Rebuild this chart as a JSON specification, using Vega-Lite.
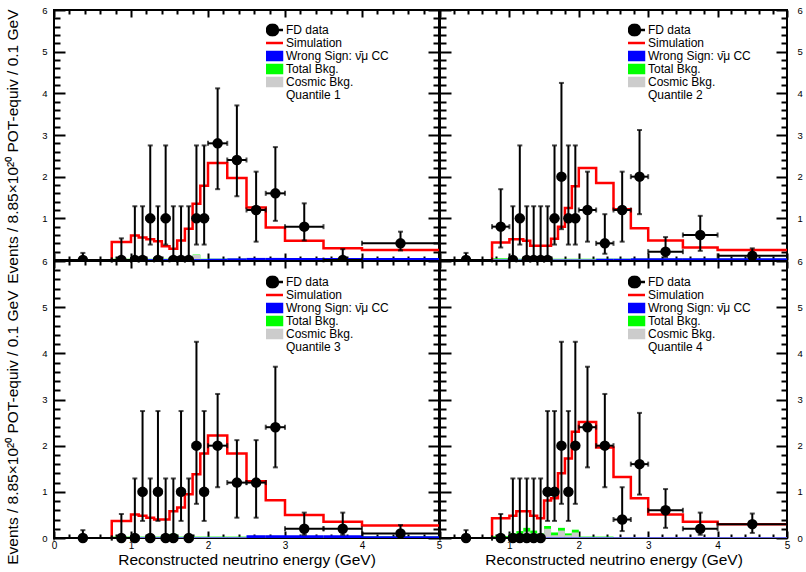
{
"$schema":"https://vega.github.io/schema/vega-lite/v6.json",
"background":"white",
"padding":{"left":3,"top":4,"right":0,"bottom":0},
"datasets":{
"fd":[
{"q":1,"x":0.375,"xlo":0,"xhi":0.75,"y":0,"ylo":0,"yhi":0.17},
{"q":1,"x":0.875,"xlo":0.75,"xhi":1,"y":0,"ylo":0,"yhi":0.52},
{"q":1,"x":1.05,"xlo":1,"xhi":1.1,"y":0,"ylo":0,"yhi":1.29},
{"q":1,"x":1.15,"xlo":1.1,"xhi":1.2,"y":0,"ylo":0,"yhi":1.29},
{"q":1,"x":1.25,"xlo":1.2,"xhi":1.3,"y":1,"ylo":0.37,"yhi":2.75},
{"q":1,"x":1.35,"xlo":1.3,"xhi":1.4,"y":0,"ylo":0,"yhi":1.29},
{"q":1,"x":1.45,"xlo":1.4,"xhi":1.5,"y":1,"ylo":0.37,"yhi":2.75},
{"q":1,"x":1.55,"xlo":1.5,"xhi":1.6,"y":0,"ylo":0,"yhi":1.29},
{"q":1,"x":1.65,"xlo":1.6,"xhi":1.7,"y":0,"ylo":0,"yhi":1.29},
{"q":1,"x":1.75,"xlo":1.7,"xhi":1.8,"y":0,"ylo":0,"yhi":1.29},
{"q":1,"x":1.85,"xlo":1.8,"xhi":1.9,"y":1,"ylo":0.37,"yhi":2.75},
{"q":1,"x":1.95,"xlo":1.9,"xhi":2,"y":1,"ylo":0.37,"yhi":2.75},
{"q":1,"x":2.125,"xlo":2,"xhi":2.25,"y":2.8,"ylo":1.7,"yhi":4.12},
{"q":1,"x":2.375,"xlo":2.25,"xhi":2.5,"y":2.4,"ylo":1.53,"yhi":3.71},
{"q":1,"x":2.625,"xlo":2.5,"xhi":2.75,"y":1.2,"ylo":0.44,"yhi":2.12},
{"q":1,"x":2.875,"xlo":2.75,"xhi":3,"y":1.6,"ylo":0.94,"yhi":2.71},
{"q":1,"x":3.25,"xlo":3,"xhi":3.5,"y":0.8,"ylo":0.47,"yhi":1.36},
{"q":1,"x":3.75,"xlo":3.5,"xhi":4,"y":0,"ylo":0,"yhi":0.26},
{"q":1,"x":4.5,"xlo":4,"xhi":5,"y":0.4,"ylo":0.23,"yhi":0.68},
{"q":2,"x":0.375,"xlo":0,"xhi":0.75,"y":0,"ylo":0,"yhi":0.17},
{"q":2,"x":0.875,"xlo":0.75,"xhi":1,"y":0.8,"ylo":0.3,"yhi":1.7},
{"q":2,"x":1.05,"xlo":1,"xhi":1.1,"y":0,"ylo":0,"yhi":1.29},
{"q":2,"x":1.15,"xlo":1.1,"xhi":1.2,"y":1,"ylo":0.37,"yhi":2.75},
{"q":2,"x":1.25,"xlo":1.2,"xhi":1.3,"y":0,"ylo":0,"yhi":1.29},
{"q":2,"x":1.35,"xlo":1.3,"xhi":1.4,"y":0,"ylo":0,"yhi":1.29},
{"q":2,"x":1.45,"xlo":1.4,"xhi":1.5,"y":0,"ylo":0,"yhi":1.29},
{"q":2,"x":1.55,"xlo":1.5,"xhi":1.6,"y":0,"ylo":0,"yhi":1.29},
{"q":2,"x":1.65,"xlo":1.6,"xhi":1.7,"y":1,"ylo":0.37,"yhi":2.75},
{"q":2,"x":1.75,"xlo":1.7,"xhi":1.8,"y":2,"ylo":0.74,"yhi":4.25},
{"q":2,"x":1.85,"xlo":1.8,"xhi":1.9,"y":1,"ylo":0.37,"yhi":2.75},
{"q":2,"x":1.95,"xlo":1.9,"xhi":2,"y":1,"ylo":0.37,"yhi":2.75},
{"q":2,"x":2.125,"xlo":2,"xhi":2.25,"y":1.2,"ylo":0.44,"yhi":2.12},
{"q":2,"x":2.375,"xlo":2.25,"xhi":2.5,"y":0.4,"ylo":0.15,"yhi":1.1},
{"q":2,"x":2.625,"xlo":2.5,"xhi":2.75,"y":1.2,"ylo":0.44,"yhi":2.12},
{"q":2,"x":2.875,"xlo":2.75,"xhi":3,"y":2,"ylo":1.1,"yhi":3.12},
{"q":2,"x":3.25,"xlo":3,"xhi":3.5,"y":0.2,"ylo":0.07,"yhi":0.55},
{"q":2,"x":3.75,"xlo":3.5,"xhi":4,"y":0.6,"ylo":0.22,"yhi":1.06},
{"q":2,"x":4.5,"xlo":4,"xhi":5,"y":0.1,"ylo":0.04,"yhi":0.28},
{"q":3,"x":0.375,"xlo":0,"xhi":0.75,"y":0,"ylo":0,"yhi":0.17},
{"q":3,"x":0.875,"xlo":0.75,"xhi":1,"y":0,"ylo":0,"yhi":0.52},
{"q":3,"x":1.05,"xlo":1,"xhi":1.1,"y":0,"ylo":0,"yhi":1.29},
{"q":3,"x":1.15,"xlo":1.1,"xhi":1.2,"y":1,"ylo":0.37,"yhi":2.75},
{"q":3,"x":1.25,"xlo":1.2,"xhi":1.3,"y":0,"ylo":0,"yhi":1.29},
{"q":3,"x":1.35,"xlo":1.3,"xhi":1.4,"y":1,"ylo":0.37,"yhi":2.75},
{"q":3,"x":1.45,"xlo":1.4,"xhi":1.5,"y":0,"ylo":0,"yhi":1.29},
{"q":3,"x":1.55,"xlo":1.5,"xhi":1.6,"y":0,"ylo":0,"yhi":1.29},
{"q":3,"x":1.65,"xlo":1.6,"xhi":1.7,"y":1,"ylo":0.37,"yhi":2.75},
{"q":3,"x":1.75,"xlo":1.7,"xhi":1.8,"y":0,"ylo":0,"yhi":1.29},
{"q":3,"x":1.85,"xlo":1.8,"xhi":1.9,"y":2,"ylo":0.74,"yhi":4.25},
{"q":3,"x":1.95,"xlo":1.9,"xhi":2,"y":1,"ylo":0.37,"yhi":2.75},
{"q":3,"x":2.125,"xlo":2,"xhi":2.25,"y":2,"ylo":1.1,"yhi":3.12},
{"q":3,"x":2.375,"xlo":2.25,"xhi":2.5,"y":1.2,"ylo":0.44,"yhi":2.12},
{"q":3,"x":2.625,"xlo":2.5,"xhi":2.75,"y":1.2,"ylo":0.44,"yhi":2.12},
{"q":3,"x":2.875,"xlo":2.75,"xhi":3,"y":2.4,"ylo":1.53,"yhi":3.71},
{"q":3,"x":3.25,"xlo":3,"xhi":3.5,"y":0.2,"ylo":0.07,"yhi":0.55},
{"q":3,"x":3.75,"xlo":3.5,"xhi":4,"y":0.2,"ylo":0.07,"yhi":0.55},
{"q":3,"x":4.5,"xlo":4,"xhi":5,"y":0.1,"ylo":0.04,"yhi":0.28},
{"q":4,"x":0.375,"xlo":0,"xhi":0.75,"y":0,"ylo":0,"yhi":0.17},
{"q":4,"x":0.875,"xlo":0.75,"xhi":1,"y":0,"ylo":0,"yhi":0.52},
{"q":4,"x":1.05,"xlo":1,"xhi":1.1,"y":0,"ylo":0,"yhi":1.29},
{"q":4,"x":1.15,"xlo":1.1,"xhi":1.2,"y":0,"ylo":0,"yhi":1.29},
{"q":4,"x":1.25,"xlo":1.2,"xhi":1.3,"y":0,"ylo":0,"yhi":1.29},
{"q":4,"x":1.35,"xlo":1.3,"xhi":1.4,"y":0,"ylo":0,"yhi":1.29},
{"q":4,"x":1.45,"xlo":1.4,"xhi":1.5,"y":0,"ylo":0,"yhi":1.29},
{"q":4,"x":1.55,"xlo":1.5,"xhi":1.6,"y":1,"ylo":0.37,"yhi":2.75},
{"q":4,"x":1.65,"xlo":1.6,"xhi":1.7,"y":1,"ylo":0.37,"yhi":2.75},
{"q":4,"x":1.75,"xlo":1.7,"xhi":1.8,"y":2,"ylo":0.74,"yhi":4.25},
{"q":4,"x":1.85,"xlo":1.8,"xhi":1.9,"y":1,"ylo":0.37,"yhi":2.75},
{"q":4,"x":1.95,"xlo":1.9,"xhi":2,"y":2,"ylo":0.74,"yhi":4.25},
{"q":4,"x":2.125,"xlo":2,"xhi":2.25,"y":2.4,"ylo":1.53,"yhi":3.71},
{"q":4,"x":2.375,"xlo":2.25,"xhi":2.5,"y":2,"ylo":1.1,"yhi":3.12},
{"q":4,"x":2.625,"xlo":2.5,"xhi":2.75,"y":0.4,"ylo":0.15,"yhi":1.1},
{"q":4,"x":2.875,"xlo":2.75,"xhi":3,"y":1.6,"ylo":0.94,"yhi":2.71},
{"q":4,"x":3.25,"xlo":3,"xhi":3.5,"y":0.6,"ylo":0.22,"yhi":1.06},
{"q":4,"x":3.75,"xlo":3.5,"xhi":4,"y":0.2,"ylo":0.07,"yhi":0.55},
{"q":4,"x":4.5,"xlo":4,"xhi":5,"y":0.3,"ylo":0.11,"yhi":0.53}
],
"sim":[
{"q":1,"e":0.75,"v":0},{"q":1,"e":0.75,"v":0.43},{"q":1,"e":1,"v":0.59},{"q":1,"e":1.1,"v":0.54},{"q":1,"e":1.2,"v":0.5},{"q":1,"e":1.3,"v":0.45},{"q":1,"e":1.4,"v":0.33},{"q":1,"e":1.5,"v":0.27},{"q":1,"e":1.6,"v":0.47},{"q":1,"e":1.7,"v":0.75},{"q":1,"e":1.8,"v":1.35},{"q":1,"e":1.9,"v":1.78},{"q":1,"e":2,"v":2.33},{"q":1,"e":2.25,"v":1.97},{"q":1,"e":2.5,"v":1.26},{"q":1,"e":2.75,"v":0.78},{"q":1,"e":3,"v":0.46},{"q":1,"e":3.5,"v":0.28},{"q":1,"e":4,"v":0.24},{"q":1,"e":5,"v":0.24},
{"q":2,"e":0.75,"v":0},{"q":2,"e":0.75,"v":0.42},{"q":2,"e":1,"v":0.5},{"q":2,"e":1.1,"v":0.5},{"q":2,"e":1.2,"v":0.46},{"q":2,"e":1.3,"v":0.34},{"q":2,"e":1.4,"v":0.34},{"q":2,"e":1.5,"v":0.34},{"q":2,"e":1.6,"v":0.51},{"q":2,"e":1.7,"v":0.8},{"q":2,"e":1.8,"v":1.25},{"q":2,"e":1.9,"v":1.77},{"q":2,"e":2,"v":2.21},{"q":2,"e":2.25,"v":1.85},{"q":2,"e":2.5,"v":1.22},{"q":2,"e":2.75,"v":0.76},{"q":2,"e":3,"v":0.47},{"q":2,"e":3.5,"v":0.3},{"q":2,"e":4,"v":0.24},{"q":2,"e":5,"v":0.24},
{"q":3,"e":0.75,"v":0},{"q":3,"e":0.75,"v":0.37},{"q":3,"e":1,"v":0.51},{"q":3,"e":1.1,"v":0.48},{"q":3,"e":1.2,"v":0.44},{"q":3,"e":1.3,"v":0.4},{"q":3,"e":1.4,"v":0.4},{"q":3,"e":1.5,"v":0.58},{"q":3,"e":1.6,"v":0.66},{"q":3,"e":1.7,"v":0.95},{"q":3,"e":1.8,"v":1.38},{"q":3,"e":1.9,"v":1.83},{"q":3,"e":2,"v":2.22},{"q":3,"e":2.25,"v":1.83},{"q":3,"e":2.5,"v":1.23},{"q":3,"e":2.75,"v":0.82},{"q":3,"e":3,"v":0.5},{"q":3,"e":3.5,"v":0.35},{"q":3,"e":4,"v":0.27},{"q":3,"e":5,"v":0.27},
{"q":4,"e":0.75,"v":0},{"q":4,"e":0.75,"v":0.43},{"q":4,"e":1,"v":0.48},{"q":4,"e":1.1,"v":0.58},{"q":4,"e":1.2,"v":0.58},{"q":4,"e":1.3,"v":0.48},{"q":4,"e":1.4,"v":0.43},{"q":4,"e":1.5,"v":0.81},{"q":4,"e":1.6,"v":0.86},{"q":4,"e":1.7,"v":1.4},{"q":4,"e":1.8,"v":1.72},{"q":4,"e":1.9,"v":2.3},{"q":4,"e":2,"v":2.51},{"q":4,"e":2.25,"v":1.96},{"q":4,"e":2.5,"v":1.32},{"q":4,"e":2.75,"v":0.86},{"q":4,"e":3,"v":0.51},{"q":4,"e":3.5,"v":0.35},{"q":4,"e":4,"v":0.3},{"q":4,"e":5,"v":0.3}
],
"bkg":[
{"q":1,"lo":0,"hi":0.75,"ws":0,"tot":0.02,"cos":0.015},{"q":1,"lo":0.75,"hi":1,"ws":0.02,"tot":0.03,"cos":0.02},{"q":1,"lo":1,"hi":1.1,"ws":0.02,"tot":0.03,"cos":0.02},{"q":1,"lo":1.1,"hi":1.2,"ws":0.02,"tot":0.03,"cos":0.02},{"q":1,"lo":1.2,"hi":1.3,"ws":0.02,"tot":0.03,"cos":0.02},{"q":1,"lo":1.3,"hi":1.4,"ws":0.02,"tot":0.03,"cos":0.02},{"q":1,"lo":1.4,"hi":1.5,"ws":0.02,"tot":0.03,"cos":0.02},{"q":1,"lo":1.5,"hi":1.6,"ws":0.02,"tot":0.03,"cos":0.02},{"q":1,"lo":1.6,"hi":1.7,"ws":0.02,"tot":0.03,"cos":0.02},{"q":1,"lo":1.7,"hi":1.8,"ws":0.02,"tot":0.03,"cos":0.02},{"q":1,"lo":1.8,"hi":1.9,"ws":0.02,"tot":0.13,"cos":0.12},{"q":1,"lo":1.9,"hi":2,"ws":0.02,"tot":0.03,"cos":0.02},{"q":1,"lo":2,"hi":2.25,"ws":0.03,"tot":0.03,"cos":0.02},{"q":1,"lo":2.25,"hi":2.5,"ws":0.04,"tot":0.03,"cos":0.02},{"q":1,"lo":2.5,"hi":2.75,"ws":0.05,"tot":0.03,"cos":0.02},{"q":1,"lo":2.75,"hi":3,"ws":0.05,"tot":0.03,"cos":0.02},{"q":1,"lo":3,"hi":3.5,"ws":0.05,"tot":0.03,"cos":0.02},{"q":1,"lo":3.5,"hi":4,"ws":0.05,"tot":0.03,"cos":0.02},{"q":1,"lo":4,"hi":5,"ws":0.05,"tot":0.03,"cos":0.02},
{"q":2,"lo":0,"hi":0.75,"ws":0,"tot":0.02,"cos":0.015},{"q":2,"lo":0.75,"hi":1,"ws":0.01,"tot":0.04,"cos":0.02},{"q":2,"lo":1,"hi":1.1,"ws":0.01,"tot":0.03,"cos":0.02},{"q":2,"lo":1.1,"hi":1.2,"ws":0.01,"tot":0.03,"cos":0.02},{"q":2,"lo":1.2,"hi":1.3,"ws":0.01,"tot":0.03,"cos":0.02},{"q":2,"lo":1.3,"hi":1.4,"ws":0.01,"tot":0.03,"cos":0.02},{"q":2,"lo":1.4,"hi":1.5,"ws":0.01,"tot":0.03,"cos":0.02},{"q":2,"lo":1.5,"hi":1.6,"ws":0.01,"tot":0.03,"cos":0.02},{"q":2,"lo":1.6,"hi":1.7,"ws":0.01,"tot":0.03,"cos":0.02},{"q":2,"lo":1.7,"hi":1.8,"ws":0.01,"tot":0.03,"cos":0.02},{"q":2,"lo":1.8,"hi":1.9,"ws":0.01,"tot":0.03,"cos":0.02},{"q":2,"lo":1.9,"hi":2,"ws":0.01,"tot":0.03,"cos":0.02},{"q":2,"lo":2,"hi":2.25,"ws":0.01,"tot":0.03,"cos":0.02},{"q":2,"lo":2.25,"hi":2.5,"ws":0.03,"tot":0.03,"cos":0.02},{"q":2,"lo":2.5,"hi":2.75,"ws":0.03,"tot":0.03,"cos":0.02},{"q":2,"lo":2.75,"hi":3,"ws":0.04,"tot":0.03,"cos":0.02},{"q":2,"lo":3,"hi":3.5,"ws":0.04,"tot":0.03,"cos":0.02},{"q":2,"lo":3.5,"hi":4,"ws":0.04,"tot":0.03,"cos":0.02},{"q":2,"lo":4,"hi":5,"ws":0.04,"tot":0.03,"cos":0.02},
{"q":3,"lo":0,"hi":0.75,"ws":0,"tot":0.02,"cos":0.015},{"q":3,"lo":0.75,"hi":1,"ws":0.01,"tot":0.03,"cos":0.02},{"q":3,"lo":1,"hi":1.1,"ws":0.01,"tot":0.03,"cos":0.02},{"q":3,"lo":1.1,"hi":1.2,"ws":0.01,"tot":0.03,"cos":0.02},{"q":3,"lo":1.2,"hi":1.3,"ws":0.01,"tot":0.03,"cos":0.02},{"q":3,"lo":1.3,"hi":1.4,"ws":0.01,"tot":0.03,"cos":0.02},{"q":3,"lo":1.4,"hi":1.5,"ws":0.01,"tot":0.03,"cos":0.02},{"q":3,"lo":1.5,"hi":1.6,"ws":0.01,"tot":0.09,"cos":0.03},{"q":3,"lo":1.6,"hi":1.7,"ws":0.01,"tot":0.03,"cos":0.02},{"q":3,"lo":1.7,"hi":1.8,"ws":0.01,"tot":0.03,"cos":0.02},{"q":3,"lo":1.8,"hi":1.9,"ws":0.01,"tot":0.03,"cos":0.02},{"q":3,"lo":1.9,"hi":2,"ws":0.01,"tot":0.03,"cos":0.02},{"q":3,"lo":2,"hi":2.25,"ws":0.01,"tot":0.03,"cos":0.02},{"q":3,"lo":2.25,"hi":2.5,"ws":0.01,"tot":0.03,"cos":0.02},{"q":3,"lo":2.5,"hi":2.75,"ws":0.06,"tot":0.03,"cos":0.02},{"q":3,"lo":2.75,"hi":3,"ws":0.06,"tot":0.03,"cos":0.02},{"q":3,"lo":3,"hi":3.5,"ws":0.06,"tot":0.03,"cos":0.02},{"q":3,"lo":3.5,"hi":4,"ws":0.06,"tot":0.03,"cos":0.02},{"q":3,"lo":4,"hi":5,"ws":0.04,"tot":0.03,"cos":0.02},
{"q":4,"lo":0,"hi":0.75,"ws":0,"tot":0.02,"cos":0.015},{"q":4,"lo":0.75,"hi":1,"ws":0.01,"tot":0.04,"cos":0.02},{"q":4,"lo":1,"hi":1.1,"ws":0.01,"tot":0.1,"cos":0.05},{"q":4,"lo":1.1,"hi":1.2,"ws":0.01,"tot":0.15,"cos":0.08},{"q":4,"lo":1.2,"hi":1.3,"ws":0.01,"tot":0.22,"cos":0.14},{"q":4,"lo":1.3,"hi":1.4,"ws":0.01,"tot":0.16,"cos":0.1},{"q":4,"lo":1.4,"hi":1.5,"ws":0.01,"tot":0.1,"cos":0.05},{"q":4,"lo":1.5,"hi":1.6,"ws":0.01,"tot":0.26,"cos":0.2},{"q":4,"lo":1.6,"hi":1.7,"ws":0.01,"tot":0.12,"cos":0.06},{"q":4,"lo":1.7,"hi":1.8,"ws":0.01,"tot":0.22,"cos":0.16},{"q":4,"lo":1.8,"hi":1.9,"ws":0.01,"tot":0.1,"cos":0.06},{"q":4,"lo":1.9,"hi":2,"ws":0.01,"tot":0.18,"cos":0.12},{"q":4,"lo":2,"hi":2.25,"ws":0.01,"tot":0.03,"cos":0.02},{"q":4,"lo":2.25,"hi":2.5,"ws":0.01,"tot":0.03,"cos":0.02},{"q":4,"lo":2.5,"hi":2.75,"ws":0.01,"tot":0.02,"cos":0.02},{"q":4,"lo":2.75,"hi":3,"ws":0.01,"tot":0.02,"cos":0.02},{"q":4,"lo":3,"hi":3.5,"ws":0.01,"tot":0.02,"cos":0.02},{"q":4,"lo":3.5,"hi":4,"ws":0.01,"tot":0.02,"cos":0.02},{"q":4,"lo":4,"hi":5,"ws":0.01,"tot":0.02,"cos":0.02}
],
"leg":[
{"q":1,"s":"FD data"},{"q":1,"s":"Simulation"},{"q":1,"s":"Wrong Sign: ν̄μ CC"},{"q":1,"s":"Total Bkg."},{"q":1,"s":"Cosmic Bkg."},{"q":1,"s":"Quantile 1"},
{"q":2,"s":"FD data"},{"q":2,"s":"Simulation"},{"q":2,"s":"Wrong Sign: ν̄μ CC"},{"q":2,"s":"Total Bkg."},{"q":2,"s":"Cosmic Bkg."},{"q":2,"s":"Quantile 2"},
{"q":3,"s":"FD data"},{"q":3,"s":"Simulation"},{"q":3,"s":"Wrong Sign: ν̄μ CC"},{"q":3,"s":"Total Bkg."},{"q":3,"s":"Cosmic Bkg."},{"q":3,"s":"Quantile 3"},
{"q":4,"s":"FD data"},{"q":4,"s":"Simulation"},{"q":4,"s":"Wrong Sign: ν̄μ CC"},{"q":4,"s":"Total Bkg."},{"q":4,"s":"Cosmic Bkg."},{"q":4,"s":"Quantile 4"}
]
},
"columns":2,
"align":"each",
"spacing":1,
"bounds":"flush",
"resolve":{"scale":{"fill":"independent","stroke":"independent","shape":"independent"},"legend":{"fill":"independent","stroke":"independent","shape":"independent"}},
"concat":[
{"width":385,"height":250,
"resolve":{"axis":{"x":"independent","y":"independent"}},
"layer":[
{"data":{"name":"bkg"},"transform":[{"filter":"datum.q==1"}],"mark":{"type":"rect","color":"#00ff00"},
"encoding":{"x":{"field":"lo","type":"quantitative","scale":{"domain":[0,5],"nice":false,"zero":false},"axis":{"orient":"bottom","values":[0,1,2,3,4,5],"tickSize":-7,"labels":false,"title":null}},"x2":{"field":"hi"},
"y":{"field":"tot","type":"quantitative","scale":{"domain":[0,6],"nice":false,"zero":false},"axis":{"orient":"left","values":[0,1,2,3,4,5,6],"tickSize":-11,"labels":false,"title":null}},"y2":{"datum":0}}},
{"data":{"name":"bkg"},"transform":[{"filter":"datum.q==1"}],"mark":{"type":"rect","color":"#cccccc"},
"encoding":{"x":{"field":"lo","type":"quantitative","scale":{"domain":[0,5],"nice":false,"zero":false},"axis":{"orient":"bottom","values":[0.2,0.4,0.6,0.8,1.2,1.4,1.6,1.8,2.2,2.4,2.6,2.8,3.2,3.4,3.6,3.8,4.2,4.4,4.6,4.8],"tickSize":-4,"labels":false,"title":null}},"x2":{"field":"hi"},
"y":{"field":"cos","type":"quantitative","scale":{"domain":[0,6],"nice":false,"zero":false},"axis":{"orient":"left","values":[0.2,0.4,0.6,0.8,1.2,1.4,1.6,1.8,2.2,2.4,2.6,2.8,3.2,3.4,3.6,3.8,4.2,4.4,4.6,4.8,5.2,5.4,5.6,5.8],"tickSize":-6,"labels":false,"title":null}},"y2":{"datum":0}}},
{"data":{"name":"bkg"},"transform":[{"filter":"datum.q==1"}],"mark":{"type":"rect","color":"#0000ff"},
"encoding":{"x":{"field":"lo","type":"quantitative","scale":{"domain":[0,5],"nice":false,"zero":false},"axis":{"orient":"top","values":[0,1,2,3,4,5],"tickSize":-7,"labels":false,"title":null}},"x2":{"field":"hi"},
"y":{"field":"ws","type":"quantitative","scale":{"domain":[0,6],"nice":false,"zero":false},"axis":{"orient":"right","values":[0,1,2,3,4,5,6],"tickSize":-11,"labels":false,"title":null}},"y2":{"datum":0}}},
{"data":{"name":"sim"},"transform":[{"filter":"datum.q==1"}],"mark":{"type":"line","interpolate":"step-after","color":"#ff0000","strokeWidth":2.5},
"encoding":{"x":{"field":"e","type":"quantitative","scale":{"domain":[0,5],"nice":false,"zero":false},"axis":{"orient":"top","values":[0.2,0.4,0.6,0.8,1.2,1.4,1.6,1.8,2.2,2.4,2.6,2.8,3.2,3.4,3.6,3.8,4.2,4.4,4.6,4.8],"tickSize":-4,"labels":false,"title":null}},
"y":{"field":"v","type":"quantitative","scale":{"domain":[0,6],"nice":false,"zero":false},"axis":{"orient":"right","values":[0.2,0.4,0.6,0.8,1.2,1.4,1.6,1.8,2.2,2.4,2.6,2.8,3.2,3.4,3.6,3.8,4.2,4.4,4.6,4.8,5.2,5.4,5.6,5.8],"tickSize":-6,"labels":false,"title":null}}}},
{"data":{"name":"fd"},"transform":[{"filter":"datum.q==1"}],"mark":{"type":"rule","color":"black","strokeWidth":2},
"encoding":{"x":{"field":"x","type":"quantitative","scale":{"domain":[0,5],"nice":false,"zero":false},"axis":null},
"y":{"field":"ylo","type":"quantitative","scale":{"domain":[0,6],"nice":false,"zero":false},"axis":{"orient":"left","values":[1,2,3,4,5,6],"ticks":false,"labelPadding":7,"labelFontSize":9.5,"title":"Events / 8.85×10²⁰ POT-equiv / 0.1 GeV","titleFontSize":15.5,"titleFontWeight":"normal","titleAngle":-90,"titleAlign":"right","titleBaseline":"alphabetic","titleX":-37,"titleY":-1}},"y2":{"field":"yhi"}}},
{"data":{"name":"fd"},"transform":[{"filter":"datum.q==1"}],"mark":{"type":"rule","color":"black","strokeWidth":2},
"encoding":{"x":{"field":"xlo","type":"quantitative","scale":{"domain":[0,5],"nice":false,"zero":false},"axis":null},"x2":{"field":"xhi"},"y":{"field":"y","type":"quantitative","scale":{"domain":[0,6],"nice":false,"zero":false},"axis":null}}},
{"data":{"name":"fd"},"transform":[{"filter":"datum.q==1"}],"mark":{"type":"tick","orient":"horizontal","color":"black","size":5,"thickness":2},
"encoding":{"x":{"field":"x","type":"quantitative","scale":{"domain":[0,5],"nice":false,"zero":false},"axis":null},"y":{"field":"yhi","type":"quantitative","scale":{"domain":[0,6],"nice":false,"zero":false},"axis":null}}},
{"data":{"name":"fd"},"transform":[{"filter":"datum.q==1"}],"mark":{"type":"tick","orient":"horizontal","color":"black","size":5,"thickness":2},
"encoding":{"x":{"field":"x","type":"quantitative","scale":{"domain":[0,5],"nice":false,"zero":false},"axis":null},"y":{"field":"ylo","type":"quantitative","scale":{"domain":[0,6],"nice":false,"zero":false},"axis":null}}},
{"data":{"name":"fd"},"transform":[{"filter":"datum.q==1"}],"mark":{"type":"tick","orient":"vertical","color":"black","size":5,"thickness":2},
"encoding":{"x":{"field":"xlo","type":"quantitative","scale":{"domain":[0,5],"nice":false,"zero":false},"axis":null},"y":{"field":"y","type":"quantitative","scale":{"domain":[0,6],"nice":false,"zero":false},"axis":null}}},
{"data":{"name":"fd"},"transform":[{"filter":"datum.q==1"}],"mark":{"type":"tick","orient":"vertical","color":"black","size":5,"thickness":2},
"encoding":{"x":{"field":"xhi","type":"quantitative","scale":{"domain":[0,5],"nice":false,"zero":false},"axis":null},"y":{"field":"y","type":"quantitative","scale":{"domain":[0,6],"nice":false,"zero":false},"axis":null}}},
{"data":{"name":"fd"},"transform":[{"filter":"datum.q==1"}],"mark":{"type":"point","filled":true,"color":"black","size":110,"opacity":1,"clip":true},
"encoding":{"x":{"field":"x","type":"quantitative","scale":{"domain":[0,5],"nice":false,"zero":false},"axis":null},"y":{"field":"y","type":"quantitative","scale":{"domain":[0,6],"nice":false,"zero":false},"axis":null}}},
{"data":{"name":"leg"},"transform":[{"filter":"datum.q==1"}],"mark":{"type":"point","filled":true,"opacity":0},
"encoding":{
"fill":{"field":"s","type":"nominal","scale":{"domain":["FD data","Simulation","Wrong Sign: ν̄μ CC","Total Bkg.","Cosmic Bkg.","Quantile 1"],"range":["black","transparent","#0000ff","#00ff00","#cccccc","transparent"]},"legend":{"orient":"none","legendX":212,"legendY":13.5,"title":null,"symbolSize":100,"symbolStrokeWidth":2.5,"symbolOpacity":1,"labelFontSize":12,"labelOffset":7,"rowPadding":0,"clipHeight":13,"padding":0,"labelLimit":300}},
"stroke":{"field":"s","type":"nominal","scale":{"domain":["FD data","Simulation","Wrong Sign: ν̄μ CC","Total Bkg.","Cosmic Bkg.","Quantile 1"],"range":["black","#ff0000","#0000ff","#00ff00","#cccccc","transparent"]},"legend":{"orient":"none","legendX":212,"legendY":13.5,"title":null,"symbolSize":100,"symbolStrokeWidth":2.5,"symbolOpacity":1,"labelFontSize":12,"labelOffset":7,"rowPadding":0,"clipHeight":13,"padding":0,"labelLimit":300}},
"shape":{"field":"s","type":"nominal","scale":{"domain":["FD data","Simulation","Wrong Sign: ν̄μ CC","Total Bkg.","Cosmic Bkg.","Quantile 1"],"range":["M-2.1,0H2.1M1.1,0A1.1,1.1,0,1,1,-1.1,0A1.1,1.1,0,1,1,1.1,0Z","M-2.1,0H2.1","M-1.9,-0.8H1.9V0.8H-1.9Z","M-1.9,-0.8H1.9V0.8H-1.9Z","M-1.9,-0.8H1.9V0.8H-1.9Z","M-1.9,-0.8H1.9V0.8H-1.9Z"]},"legend":{"orient":"none","legendX":212,"legendY":13.5,"title":null,"symbolSize":100,"symbolStrokeWidth":2.5,"symbolOpacity":1,"labelFontSize":12,"labelOffset":7,"rowPadding":0,"clipHeight":13,"padding":0,"labelLimit":300}}}}
]},
{"width":347,"height":250,
"resolve":{"axis":{"x":"independent","y":"independent"}},
"layer":[
{"data":{"name":"bkg"},"transform":[{"filter":"datum.q==2"}],"mark":{"type":"rect","color":"#00ff00"},
"encoding":{"x":{"field":"lo","type":"quantitative","scale":{"domain":[0,5],"nice":false,"zero":false},"axis":{"orient":"bottom","values":[0,1,2,3,4,5],"tickSize":-7,"labels":false,"title":null}},"x2":{"field":"hi"},
"y":{"field":"tot","type":"quantitative","scale":{"domain":[0,6],"nice":false,"zero":false},"axis":{"orient":"left","values":[0,1,2,3,4,5,6],"tickSize":-11,"labels":false,"title":null}},"y2":{"datum":0}}},
{"data":{"name":"bkg"},"transform":[{"filter":"datum.q==2"}],"mark":{"type":"rect","color":"#cccccc"},
"encoding":{"x":{"field":"lo","type":"quantitative","scale":{"domain":[0,5],"nice":false,"zero":false},"axis":{"orient":"bottom","values":[0.2,0.4,0.6,0.8,1.2,1.4,1.6,1.8,2.2,2.4,2.6,2.8,3.2,3.4,3.6,3.8,4.2,4.4,4.6,4.8],"tickSize":-4,"labels":false,"title":null}},"x2":{"field":"hi"},
"y":{"field":"cos","type":"quantitative","scale":{"domain":[0,6],"nice":false,"zero":false},"axis":{"orient":"left","values":[0.2,0.4,0.6,0.8,1.2,1.4,1.6,1.8,2.2,2.4,2.6,2.8,3.2,3.4,3.6,3.8,4.2,4.4,4.6,4.8,5.2,5.4,5.6,5.8],"tickSize":-6,"labels":false,"title":null}},"y2":{"datum":0}}},
{"data":{"name":"bkg"},"transform":[{"filter":"datum.q==2"}],"mark":{"type":"rect","color":"#0000ff"},
"encoding":{"x":{"field":"lo","type":"quantitative","scale":{"domain":[0,5],"nice":false,"zero":false},"axis":{"orient":"top","values":[0,1,2,3,4,5],"tickSize":-7,"labels":false,"title":null}},"x2":{"field":"hi"},
"y":{"field":"ws","type":"quantitative","scale":{"domain":[0,6],"nice":false,"zero":false},"axis":{"orient":"right","values":[0,1,2,3,4,5,6],"tickSize":-11,"labels":false,"title":null}},"y2":{"datum":0}}},
{"data":{"name":"sim"},"transform":[{"filter":"datum.q==2"}],"mark":{"type":"line","interpolate":"step-after","color":"#ff0000","strokeWidth":2.5},
"encoding":{"x":{"field":"e","type":"quantitative","scale":{"domain":[0,5],"nice":false,"zero":false},"axis":{"orient":"top","values":[0.2,0.4,0.6,0.8,1.2,1.4,1.6,1.8,2.2,2.4,2.6,2.8,3.2,3.4,3.6,3.8,4.2,4.4,4.6,4.8],"tickSize":-4,"labels":false,"title":null}},
"y":{"field":"v","type":"quantitative","scale":{"domain":[0,6],"nice":false,"zero":false},"axis":{"orient":"right","values":[0.2,0.4,0.6,0.8,1.2,1.4,1.6,1.8,2.2,2.4,2.6,2.8,3.2,3.4,3.6,3.8,4.2,4.4,4.6,4.8,5.2,5.4,5.6,5.8],"tickSize":-6,"labels":false,"title":null}}}},
{"data":{"name":"fd"},"transform":[{"filter":"datum.q==2"}],"mark":{"type":"rule","color":"black","strokeWidth":2},
"encoding":{"x":{"field":"x","type":"quantitative","scale":{"domain":[0,5],"nice":false,"zero":false},"axis":null},
"y":{"field":"ylo","type":"quantitative","scale":{"domain":[0,6],"nice":false,"zero":false},"axis":{"orient":"right","values":[1,2,3,4,5,6],"ticks":false,"labelPadding":10,"labelFontSize":9.5,"title":null}},"y2":{"field":"yhi"}}},
{"data":{"name":"fd"},"transform":[{"filter":"datum.q==2"}],"mark":{"type":"rule","color":"black","strokeWidth":2},
"encoding":{"x":{"field":"xlo","type":"quantitative","scale":{"domain":[0,5],"nice":false,"zero":false},"axis":null},"x2":{"field":"xhi"},"y":{"field":"y","type":"quantitative","scale":{"domain":[0,6],"nice":false,"zero":false},"axis":null}}},
{"data":{"name":"fd"},"transform":[{"filter":"datum.q==2"}],"mark":{"type":"tick","orient":"horizontal","color":"black","size":5,"thickness":2},
"encoding":{"x":{"field":"x","type":"quantitative","scale":{"domain":[0,5],"nice":false,"zero":false},"axis":null},"y":{"field":"yhi","type":"quantitative","scale":{"domain":[0,6],"nice":false,"zero":false},"axis":null}}},
{"data":{"name":"fd"},"transform":[{"filter":"datum.q==2"}],"mark":{"type":"tick","orient":"horizontal","color":"black","size":5,"thickness":2},
"encoding":{"x":{"field":"x","type":"quantitative","scale":{"domain":[0,5],"nice":false,"zero":false},"axis":null},"y":{"field":"ylo","type":"quantitative","scale":{"domain":[0,6],"nice":false,"zero":false},"axis":null}}},
{"data":{"name":"fd"},"transform":[{"filter":"datum.q==2"}],"mark":{"type":"tick","orient":"vertical","color":"black","size":5,"thickness":2},
"encoding":{"x":{"field":"xlo","type":"quantitative","scale":{"domain":[0,5],"nice":false,"zero":false},"axis":null},"y":{"field":"y","type":"quantitative","scale":{"domain":[0,6],"nice":false,"zero":false},"axis":null}}},
{"data":{"name":"fd"},"transform":[{"filter":"datum.q==2"}],"mark":{"type":"tick","orient":"vertical","color":"black","size":5,"thickness":2},
"encoding":{"x":{"field":"xhi","type":"quantitative","scale":{"domain":[0,5],"nice":false,"zero":false},"axis":null},"y":{"field":"y","type":"quantitative","scale":{"domain":[0,6],"nice":false,"zero":false},"axis":null}}},
{"data":{"name":"fd"},"transform":[{"filter":"datum.q==2"}],"mark":{"type":"point","filled":true,"color":"black","size":110,"opacity":1,"clip":true},
"encoding":{"x":{"field":"x","type":"quantitative","scale":{"domain":[0,5],"nice":false,"zero":false},"axis":null},"y":{"field":"y","type":"quantitative","scale":{"domain":[0,6],"nice":false,"zero":false},"axis":null}}},
{"data":{"name":"leg"},"transform":[{"filter":"datum.q==2"}],"mark":{"type":"point","filled":true,"opacity":0},
"encoding":{
"fill":{"field":"s","type":"nominal","scale":{"domain":["FD data","Simulation","Wrong Sign: ν̄μ CC","Total Bkg.","Cosmic Bkg.","Quantile 2"],"range":["black","transparent","#0000ff","#00ff00","#cccccc","transparent"]},"legend":{"orient":"none","legendX":188,"legendY":13.5,"title":null,"symbolSize":100,"symbolStrokeWidth":2.5,"symbolOpacity":1,"labelFontSize":12,"labelOffset":7,"rowPadding":0,"clipHeight":13,"padding":0,"labelLimit":300}},
"stroke":{"field":"s","type":"nominal","scale":{"domain":["FD data","Simulation","Wrong Sign: ν̄μ CC","Total Bkg.","Cosmic Bkg.","Quantile 2"],"range":["black","#ff0000","#0000ff","#00ff00","#cccccc","transparent"]},"legend":{"orient":"none","legendX":188,"legendY":13.5,"title":null,"symbolSize":100,"symbolStrokeWidth":2.5,"symbolOpacity":1,"labelFontSize":12,"labelOffset":7,"rowPadding":0,"clipHeight":13,"padding":0,"labelLimit":300}},
"shape":{"field":"s","type":"nominal","scale":{"domain":["FD data","Simulation","Wrong Sign: ν̄μ CC","Total Bkg.","Cosmic Bkg.","Quantile 2"],"range":["M-2.1,0H2.1M1.1,0A1.1,1.1,0,1,1,-1.1,0A1.1,1.1,0,1,1,1.1,0Z","M-2.1,0H2.1","M-1.9,-0.8H1.9V0.8H-1.9Z","M-1.9,-0.8H1.9V0.8H-1.9Z","M-1.9,-0.8H1.9V0.8H-1.9Z","M-1.9,-0.8H1.9V0.8H-1.9Z"]},"legend":{"orient":"none","legendX":188,"legendY":13.5,"title":null,"symbolSize":100,"symbolStrokeWidth":2.5,"symbolOpacity":1,"labelFontSize":12,"labelOffset":7,"rowPadding":0,"clipHeight":13,"padding":0,"labelLimit":300}}}}
]},
{"width":385,"height":277,
"resolve":{"axis":{"x":"independent","y":"independent"}},
"layer":[
{"data":{"name":"bkg"},"transform":[{"filter":"datum.q==3"}],"mark":{"type":"rect","color":"#00ff00"},
"encoding":{"x":{"field":"lo","type":"quantitative","scale":{"domain":[0,5],"nice":false,"zero":false},"axis":{"orient":"bottom","values":[0,1,2,3,4,5],"tickSize":-7,"labels":false,"title":null}},"x2":{"field":"hi"},
"y":{"field":"tot","type":"quantitative","scale":{"domain":[0,6],"nice":false,"zero":false},"axis":{"orient":"left","values":[0,1,2,3,4,5,6],"tickSize":-11,"labels":false,"title":null}},"y2":{"datum":0}}},
{"data":{"name":"bkg"},"transform":[{"filter":"datum.q==3"}],"mark":{"type":"rect","color":"#cccccc"},
"encoding":{"x":{"field":"lo","type":"quantitative","scale":{"domain":[0,5],"nice":false,"zero":false},"axis":{"orient":"bottom","values":[0.2,0.4,0.6,0.8,1.2,1.4,1.6,1.8,2.2,2.4,2.6,2.8,3.2,3.4,3.6,3.8,4.2,4.4,4.6,4.8],"tickSize":-4,"labels":false,"title":null}},"x2":{"field":"hi"},
"y":{"field":"cos","type":"quantitative","scale":{"domain":[0,6],"nice":false,"zero":false},"axis":{"orient":"left","values":[0.2,0.4,0.6,0.8,1.2,1.4,1.6,1.8,2.2,2.4,2.6,2.8,3.2,3.4,3.6,3.8,4.2,4.4,4.6,4.8,5.2,5.4,5.6,5.8],"tickSize":-6,"labels":false,"title":null}},"y2":{"datum":0}}},
{"data":{"name":"bkg"},"transform":[{"filter":"datum.q==3"}],"mark":{"type":"rect","color":"#0000ff"},
"encoding":{"x":{"field":"lo","type":"quantitative","scale":{"domain":[0,5],"nice":false,"zero":false},"axis":{"orient":"top","values":[0,1,2,3,4,5],"tickSize":-7,"labels":false,"title":null}},"x2":{"field":"hi"},
"y":{"field":"ws","type":"quantitative","scale":{"domain":[0,6],"nice":false,"zero":false},"axis":{"orient":"right","values":[0,1,2,3,4,5,6],"tickSize":-11,"labels":false,"title":null}},"y2":{"datum":0}}},
{"data":{"name":"sim"},"transform":[{"filter":"datum.q==3"}],"mark":{"type":"line","interpolate":"step-after","color":"#ff0000","strokeWidth":2.5},
"encoding":{"x":{"field":"e","type":"quantitative","scale":{"domain":[0,5],"nice":false,"zero":false},"axis":{"orient":"top","values":[0.2,0.4,0.6,0.8,1.2,1.4,1.6,1.8,2.2,2.4,2.6,2.8,3.2,3.4,3.6,3.8,4.2,4.4,4.6,4.8],"tickSize":-4,"labels":false,"title":null}},
"y":{"field":"v","type":"quantitative","scale":{"domain":[0,6],"nice":false,"zero":false},"axis":{"orient":"right","values":[0.2,0.4,0.6,0.8,1.2,1.4,1.6,1.8,2.2,2.4,2.6,2.8,3.2,3.4,3.6,3.8,4.2,4.4,4.6,4.8,5.2,5.4,5.6,5.8],"tickSize":-6,"labels":false,"title":null}}}},
{"data":{"name":"fd"},"transform":[{"filter":"datum.q==3"}],"mark":{"type":"rule","color":"black","strokeWidth":2},
"encoding":{"x":{"field":"x","type":"quantitative","scale":{"domain":[0,5],"nice":false,"zero":false},"axis":{"orient":"bottom","values":[0,1,2,3,4,5],"ticks":false,"labelPadding":2,"labelFontSize":10,"labelFlush":false,"title":"Reconstructed neutrino energy (GeV)","titleFontSize":15.5,"titleFontWeight":"normal","titleBaseline":"alphabetic","titleY":26}},
"y":{"field":"ylo","type":"quantitative","scale":{"domain":[0,6],"nice":false,"zero":false},"axis":{"orient":"left","values":[0,1,2,3,4,5,6],"ticks":false,"labelPadding":7,"labelFontSize":9.5,"title":"Events / 8.85×10²⁰ POT-equiv / 0.1 GeV","titleFontSize":15.5,"titleFontWeight":"normal","titleAngle":-90,"titleAlign":"right","titleBaseline":"alphabetic","titleX":-37,"titleY":29}},"y2":{"field":"yhi"}}},
{"data":{"name":"fd"},"transform":[{"filter":"datum.q==3"}],"mark":{"type":"rule","color":"black","strokeWidth":2},
"encoding":{"x":{"field":"xlo","type":"quantitative","scale":{"domain":[0,5],"nice":false,"zero":false},"axis":null},"x2":{"field":"xhi"},"y":{"field":"y","type":"quantitative","scale":{"domain":[0,6],"nice":false,"zero":false},"axis":null}}},
{"data":{"name":"fd"},"transform":[{"filter":"datum.q==3"}],"mark":{"type":"tick","orient":"horizontal","color":"black","size":5,"thickness":2},
"encoding":{"x":{"field":"x","type":"quantitative","scale":{"domain":[0,5],"nice":false,"zero":false},"axis":null},"y":{"field":"yhi","type":"quantitative","scale":{"domain":[0,6],"nice":false,"zero":false},"axis":null}}},
{"data":{"name":"fd"},"transform":[{"filter":"datum.q==3"}],"mark":{"type":"tick","orient":"horizontal","color":"black","size":5,"thickness":2},
"encoding":{"x":{"field":"x","type":"quantitative","scale":{"domain":[0,5],"nice":false,"zero":false},"axis":null},"y":{"field":"ylo","type":"quantitative","scale":{"domain":[0,6],"nice":false,"zero":false},"axis":null}}},
{"data":{"name":"fd"},"transform":[{"filter":"datum.q==3"}],"mark":{"type":"tick","orient":"vertical","color":"black","size":5,"thickness":2},
"encoding":{"x":{"field":"xlo","type":"quantitative","scale":{"domain":[0,5],"nice":false,"zero":false},"axis":null},"y":{"field":"y","type":"quantitative","scale":{"domain":[0,6],"nice":false,"zero":false},"axis":null}}},
{"data":{"name":"fd"},"transform":[{"filter":"datum.q==3"}],"mark":{"type":"tick","orient":"vertical","color":"black","size":5,"thickness":2},
"encoding":{"x":{"field":"xhi","type":"quantitative","scale":{"domain":[0,5],"nice":false,"zero":false},"axis":null},"y":{"field":"y","type":"quantitative","scale":{"domain":[0,6],"nice":false,"zero":false},"axis":null}}},
{"data":{"name":"fd"},"transform":[{"filter":"datum.q==3"}],"mark":{"type":"point","filled":true,"color":"black","size":110,"opacity":1},
"encoding":{"x":{"field":"x","type":"quantitative","scale":{"domain":[0,5],"nice":false,"zero":false},"axis":null},"y":{"field":"y","type":"quantitative","scale":{"domain":[0,6],"nice":false,"zero":false},"axis":null}}},
{"data":{"name":"leg"},"transform":[{"filter":"datum.q==3"}],"mark":{"type":"point","filled":true,"opacity":0},
"encoding":{
"fill":{"field":"s","type":"nominal","scale":{"domain":["FD data","Simulation","Wrong Sign: ν̄μ CC","Total Bkg.","Cosmic Bkg.","Quantile 3"],"range":["black","transparent","#0000ff","#00ff00","#cccccc","transparent"]},"legend":{"orient":"none","legendX":212,"legendY":14.5,"title":null,"symbolSize":100,"symbolStrokeWidth":2.5,"symbolOpacity":1,"labelFontSize":12,"labelOffset":7,"rowPadding":-0.2,"clipHeight":13,"padding":0,"labelLimit":300}},
"stroke":{"field":"s","type":"nominal","scale":{"domain":["FD data","Simulation","Wrong Sign: ν̄μ CC","Total Bkg.","Cosmic Bkg.","Quantile 3"],"range":["black","#ff0000","#0000ff","#00ff00","#cccccc","transparent"]},"legend":{"orient":"none","legendX":212,"legendY":14.5,"title":null,"symbolSize":100,"symbolStrokeWidth":2.5,"symbolOpacity":1,"labelFontSize":12,"labelOffset":7,"rowPadding":-0.2,"clipHeight":13,"padding":0,"labelLimit":300}},
"shape":{"field":"s","type":"nominal","scale":{"domain":["FD data","Simulation","Wrong Sign: ν̄μ CC","Total Bkg.","Cosmic Bkg.","Quantile 3"],"range":["M-2.1,0H2.1M1.1,0A1.1,1.1,0,1,1,-1.1,0A1.1,1.1,0,1,1,1.1,0Z","M-2.1,0H2.1","M-1.9,-0.8H1.9V0.8H-1.9Z","M-1.9,-0.8H1.9V0.8H-1.9Z","M-1.9,-0.8H1.9V0.8H-1.9Z","M-1.9,-0.8H1.9V0.8H-1.9Z"]},"legend":{"orient":"none","legendX":212,"legendY":14.5,"title":null,"symbolSize":100,"symbolStrokeWidth":2.5,"symbolOpacity":1,"labelFontSize":12,"labelOffset":7,"rowPadding":-0.2,"clipHeight":13,"padding":0,"labelLimit":300}}}}
]},
{"width":347,"height":277,
"resolve":{"axis":{"x":"independent","y":"independent"}},
"layer":[
{"data":{"name":"bkg"},"transform":[{"filter":"datum.q==4"}],"mark":{"type":"rect","color":"#00ff00"},
"encoding":{"x":{"field":"lo","type":"quantitative","scale":{"domain":[0,5],"nice":false,"zero":false},"axis":{"orient":"bottom","values":[0,1,2,3,4,5],"tickSize":-7,"labels":false,"title":null}},"x2":{"field":"hi"},
"y":{"field":"tot","type":"quantitative","scale":{"domain":[0,6],"nice":false,"zero":false},"axis":{"orient":"left","values":[0,1,2,3,4,5,6],"tickSize":-11,"labels":false,"title":null}},"y2":{"datum":0}}},
{"data":{"name":"bkg"},"transform":[{"filter":"datum.q==4"}],"mark":{"type":"rect","color":"#cccccc"},
"encoding":{"x":{"field":"lo","type":"quantitative","scale":{"domain":[0,5],"nice":false,"zero":false},"axis":{"orient":"bottom","values":[0.2,0.4,0.6,0.8,1.2,1.4,1.6,1.8,2.2,2.4,2.6,2.8,3.2,3.4,3.6,3.8,4.2,4.4,4.6,4.8],"tickSize":-4,"labels":false,"title":null}},"x2":{"field":"hi"},
"y":{"field":"cos","type":"quantitative","scale":{"domain":[0,6],"nice":false,"zero":false},"axis":{"orient":"left","values":[0.2,0.4,0.6,0.8,1.2,1.4,1.6,1.8,2.2,2.4,2.6,2.8,3.2,3.4,3.6,3.8,4.2,4.4,4.6,4.8,5.2,5.4,5.6,5.8],"tickSize":-6,"labels":false,"title":null}},"y2":{"datum":0}}},
{"data":{"name":"bkg"},"transform":[{"filter":"datum.q==4"}],"mark":{"type":"rect","color":"#0000ff"},
"encoding":{"x":{"field":"lo","type":"quantitative","scale":{"domain":[0,5],"nice":false,"zero":false},"axis":{"orient":"top","values":[0,1,2,3,4,5],"tickSize":-7,"labels":false,"title":null}},"x2":{"field":"hi"},
"y":{"field":"ws","type":"quantitative","scale":{"domain":[0,6],"nice":false,"zero":false},"axis":{"orient":"right","values":[0,1,2,3,4,5,6],"tickSize":-11,"labels":false,"title":null}},"y2":{"datum":0}}},
{"data":{"name":"sim"},"transform":[{"filter":"datum.q==4"}],"mark":{"type":"line","interpolate":"step-after","color":"#ff0000","strokeWidth":2.5},
"encoding":{"x":{"field":"e","type":"quantitative","scale":{"domain":[0,5],"nice":false,"zero":false},"axis":{"orient":"top","values":[0.2,0.4,0.6,0.8,1.2,1.4,1.6,1.8,2.2,2.4,2.6,2.8,3.2,3.4,3.6,3.8,4.2,4.4,4.6,4.8],"tickSize":-4,"labels":false,"title":null}},
"y":{"field":"v","type":"quantitative","scale":{"domain":[0,6],"nice":false,"zero":false},"axis":{"orient":"right","values":[0.2,0.4,0.6,0.8,1.2,1.4,1.6,1.8,2.2,2.4,2.6,2.8,3.2,3.4,3.6,3.8,4.2,4.4,4.6,4.8,5.2,5.4,5.6,5.8],"tickSize":-6,"labels":false,"title":null}}}},
{"data":{"name":"fd"},"transform":[{"filter":"datum.q==4"}],"mark":{"type":"rule","color":"black","strokeWidth":2},
"encoding":{"x":{"field":"x","type":"quantitative","scale":{"domain":[0,5],"nice":false,"zero":false},"axis":{"orient":"bottom","values":[1,2,3,4,5],"ticks":false,"labelPadding":2,"labelFontSize":10,"labelFlush":false,"title":"Reconstructed neutrino energy (GeV)","titleFontSize":15.5,"titleFontWeight":"normal","titleBaseline":"alphabetic","titleY":26}},
"y":{"field":"ylo","type":"quantitative","scale":{"domain":[0,6],"nice":false,"zero":false},"axis":{"orient":"right","values":[0,1,2,3,4,5,6],"ticks":false,"labelPadding":10,"labelFontSize":9.5,"title":null}},"y2":{"field":"yhi"}}},
{"data":{"name":"fd"},"transform":[{"filter":"datum.q==4"}],"mark":{"type":"rule","color":"black","strokeWidth":2},
"encoding":{"x":{"field":"xlo","type":"quantitative","scale":{"domain":[0,5],"nice":false,"zero":false},"axis":null},"x2":{"field":"xhi"},"y":{"field":"y","type":"quantitative","scale":{"domain":[0,6],"nice":false,"zero":false},"axis":null}}},
{"data":{"name":"fd"},"transform":[{"filter":"datum.q==4"}],"mark":{"type":"tick","orient":"horizontal","color":"black","size":5,"thickness":2},
"encoding":{"x":{"field":"x","type":"quantitative","scale":{"domain":[0,5],"nice":false,"zero":false},"axis":null},"y":{"field":"yhi","type":"quantitative","scale":{"domain":[0,6],"nice":false,"zero":false},"axis":null}}},
{"data":{"name":"fd"},"transform":[{"filter":"datum.q==4"}],"mark":{"type":"tick","orient":"horizontal","color":"black","size":5,"thickness":2},
"encoding":{"x":{"field":"x","type":"quantitative","scale":{"domain":[0,5],"nice":false,"zero":false},"axis":null},"y":{"field":"ylo","type":"quantitative","scale":{"domain":[0,6],"nice":false,"zero":false},"axis":null}}},
{"data":{"name":"fd"},"transform":[{"filter":"datum.q==4"}],"mark":{"type":"tick","orient":"vertical","color":"black","size":5,"thickness":2},
"encoding":{"x":{"field":"xlo","type":"quantitative","scale":{"domain":[0,5],"nice":false,"zero":false},"axis":null},"y":{"field":"y","type":"quantitative","scale":{"domain":[0,6],"nice":false,"zero":false},"axis":null}}},
{"data":{"name":"fd"},"transform":[{"filter":"datum.q==4"}],"mark":{"type":"tick","orient":"vertical","color":"black","size":5,"thickness":2},
"encoding":{"x":{"field":"xhi","type":"quantitative","scale":{"domain":[0,5],"nice":false,"zero":false},"axis":null},"y":{"field":"y","type":"quantitative","scale":{"domain":[0,6],"nice":false,"zero":false},"axis":null}}},
{"data":{"name":"fd"},"transform":[{"filter":"datum.q==4"}],"mark":{"type":"point","filled":true,"color":"black","size":110,"opacity":1},
"encoding":{"x":{"field":"x","type":"quantitative","scale":{"domain":[0,5],"nice":false,"zero":false},"axis":null},"y":{"field":"y","type":"quantitative","scale":{"domain":[0,6],"nice":false,"zero":false},"axis":null}}},
{"data":{"name":"leg"},"transform":[{"filter":"datum.q==4"}],"mark":{"type":"point","filled":true,"opacity":0},
"encoding":{
"fill":{"field":"s","type":"nominal","scale":{"domain":["FD data","Simulation","Wrong Sign: ν̄μ CC","Total Bkg.","Cosmic Bkg.","Quantile 4"],"range":["black","transparent","#0000ff","#00ff00","#cccccc","transparent"]},"legend":{"orient":"none","legendX":188,"legendY":14.5,"title":null,"symbolSize":100,"symbolStrokeWidth":2.5,"symbolOpacity":1,"labelFontSize":12,"labelOffset":7,"rowPadding":-0.2,"clipHeight":13,"padding":0,"labelLimit":300}},
"stroke":{"field":"s","type":"nominal","scale":{"domain":["FD data","Simulation","Wrong Sign: ν̄μ CC","Total Bkg.","Cosmic Bkg.","Quantile 4"],"range":["black","#ff0000","#0000ff","#00ff00","#cccccc","transparent"]},"legend":{"orient":"none","legendX":188,"legendY":14.5,"title":null,"symbolSize":100,"symbolStrokeWidth":2.5,"symbolOpacity":1,"labelFontSize":12,"labelOffset":7,"rowPadding":-0.2,"clipHeight":13,"padding":0,"labelLimit":300}},
"shape":{"field":"s","type":"nominal","scale":{"domain":["FD data","Simulation","Wrong Sign: ν̄μ CC","Total Bkg.","Cosmic Bkg.","Quantile 4"],"range":["M-2.1,0H2.1M1.1,0A1.1,1.1,0,1,1,-1.1,0A1.1,1.1,0,1,1,1.1,0Z","M-2.1,0H2.1","M-1.9,-0.8H1.9V0.8H-1.9Z","M-1.9,-0.8H1.9V0.8H-1.9Z","M-1.9,-0.8H1.9V0.8H-1.9Z","M-1.9,-0.8H1.9V0.8H-1.9Z"]},"legend":{"orient":"none","legendX":188,"legendY":14.5,"title":null,"symbolSize":100,"symbolStrokeWidth":2.5,"symbolOpacity":1,"labelFontSize":12,"labelOffset":7,"rowPadding":-0.2,"clipHeight":13,"padding":0,"labelLimit":300}}}}
]}
],
"config":{
"view":{"stroke":"black","strokeWidth":2,"fill":"white"},
"font":"Liberation Sans",
"axis":{"domain":false,"grid":false,"tickColor":"black","tickWidth":2,"labelColor":"black","titleColor":"black","labelFont":"Liberation Sans","titleFont":"Liberation Sans"},
"legend":{"labelFont":"Liberation Sans","labelColor":"black"}
}
}
